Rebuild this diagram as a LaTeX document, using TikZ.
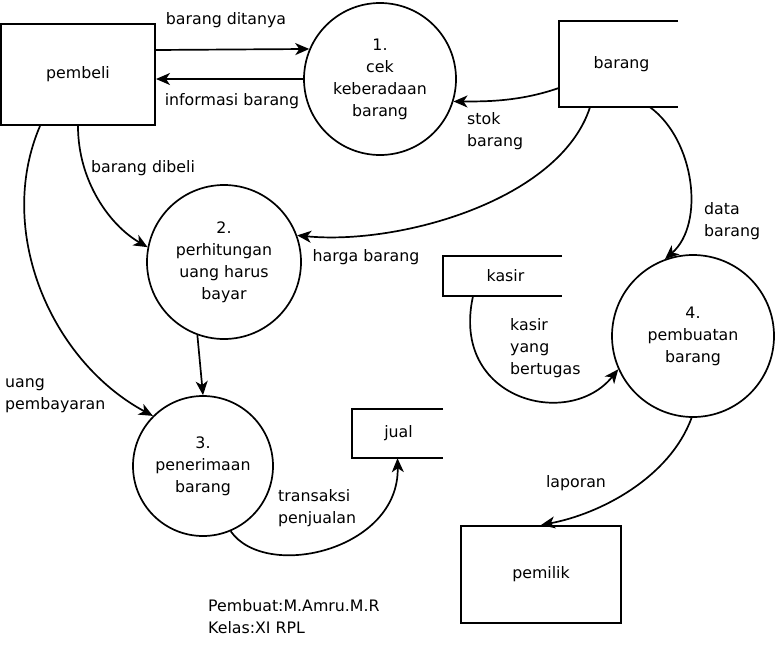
\documentclass[tikz,border=0pt]{standalone}
\usepackage{fontspec}
\setmainfont{DejaVu Sans}
\usepackage{tikz}
\usetikzlibrary{arrows.meta}
\tikzset{
	entitas/.style={draw, line width=2pt, inner sep=0pt},
	proses/.style={draw, circle, line width=1.7pt, inner sep=0pt, align=center},
	simpan/.style={inner sep=0pt},
	alir/.style={line width=1.7pt, -{Stealth[length=14pt,width=12pt,inset=4pt]}},
	ket/.style={inner sep=0pt, align=left}
}
\def\openstore(#1){\draw[line width=2pt] (#1.north east) -- (#1.north west) -- (#1.south west) -- (#1.south east);}

\begin{document}
\begin{tikzpicture}[x=1pt, y=-1pt, font=\fontsize{15.8}{22}\selectfont]
		%%%%% START %%%%%
		\useasboundingbox (0, 0) rectangle (776, 648);
		
		\node[entitas, minimum width=154pt, minimum height=101pt] (pembeli) at (78, 74.5) {pembeli};
		\node[entitas, minimum width=160pt, minimum height=97pt] (pemilik) at (541, 574.5) {pemilik};
		
		\node[simpan, minimum width=119pt, minimum height=86pt] (sbarang) at (618.5, 64) {\hspace{6pt}barang};
		\node[simpan, minimum width=119pt, minimum height=40pt] (skasir) at (502.5, 276) {\hspace{6pt}kasir};
		\node[simpan, minimum width=91pt, minimum height=49pt] (sjual) at (397.5, 433.5) {\hspace{2pt}jual};
		\openstore(sbarang)
		\openstore(skasir)
		\openstore(sjual)
		
		\node[proses, minimum size=152pt] (p1) at (380, 79) {1.\\cek\\keberadaan\\barang};
		\node[proses, minimum size=154pt] (p2) at (224, 262) {2.\\perhitungan\\uang harus\\bayar};
		\node[proses, minimum size=140pt] (p3) at (203, 466) {3.\\penerimaan\\barang};
		\node[proses, minimum size=162pt] (p4) at (693, 336) {4.\\pembuatan\\barang};
		
		\draw[alir] ([yshift=24.5pt]pembeli.east) -- (p1.157.6);
		\draw[alir] (p1.west) -- (p1.west -| pembeli.east);
		\draw[alir] ([yshift=-24pt]sbarang.west) .. controls +(-40, 14) and +(30, 0) .. (p1.-17);
		\draw[alir] ([xshift=-28.5pt]sbarang.south) .. controls +(-30, 93) and +(102, 10) .. (p2.20);
		\draw[alir] ([xshift=31.5pt]sbarang.south) .. controls +(45, 33) and +(40, -35) .. (p4.110);
		\draw[alir] (pembeli.south) .. controls +(0, 55) and +(-38, -22) .. (p2.169);
		\draw[alir] ([xshift=-38pt]pembeli.south) .. controls +(-45, 105) and +(-102, -55) .. (p3.135);
		\draw[alir] (p2.-110) -- (p3.north);
		\draw[alir] (p3.-67) .. controls +(35, 50) and +(2, 92) .. (sjual.south);
		\draw[alir] ([xshift=-29.5pt]skasir.south) .. controls +(-23, 104) and +(-49, 61) .. (p4.-156);
		\draw[alir] (p4.-91) .. controls +(-22, 60) and +(59, -11) .. (pemilik.north);
		
		\node[ket] (kditanya) at (226, 20) {barang ditanya};
		\node[ket] (kinfo) at (232, 101) {informasi barang};
		\node[ket] (kdibeli) at (143, 168) {barang dibeli};
		\node[ket] (kharga) at (366, 257) {harga barang};
		\node[ket, anchor=west] (kstok) at (467, 131) {stok\\barang};
		\node[ket, anchor=west] (kdata) at (704, 221.5) {data\\barang};
		\node[ket, anchor=west] (kuang) at (5, 396) {uang\\pembayaran};
		\node[ket, anchor=west] (ktransaksi) at (278, 508) {transaksi\\penjualan};
		\node[ket, anchor=west] (kkasir) at (510, 348) {kasir\\yang\\bertugas};
		\node[ket] (klaporan) at (576, 483) {laporan};
		
		\node[ket, anchor=west] (pembuat) at (208, 617) {Pembuat:M.Amru.M.R\\Kelas:XI RPL};
		
		%%%%% END %%%%%
	\end{tikzpicture}
\end{document}
